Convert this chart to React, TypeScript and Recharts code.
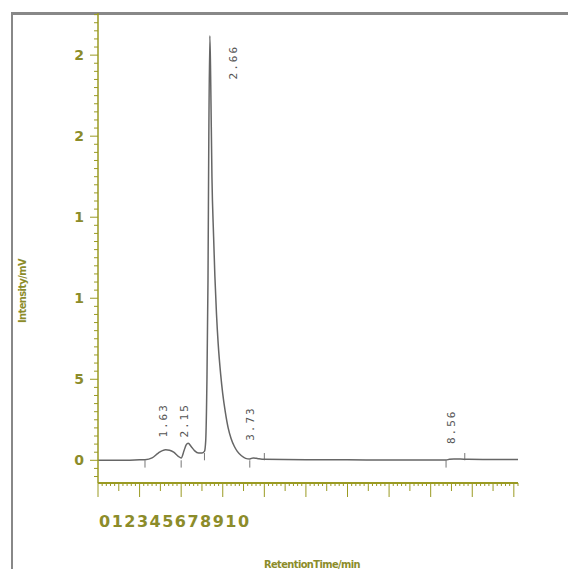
import React from "react";
import { ComposedChart, Line, Scatter, XAxis, YAxis, ReferenceLine } from "recharts";

// retention time (min) and detector signal (mV)
const times = [
  0, 0.5, 1.0, 1.13, 1.3, 1.45, 1.55, 1.63, 1.72, 1.82, 1.93, 2.0, 2.07, 2.12, 2.17,
  2.24, 2.32, 2.42, 2.5, 2.56, 2.59, 2.62, 2.645, 2.665, 2.69, 2.71, 2.74, 2.78, 2.81,
  2.85, 2.89, 2.95, 3.0, 3.06, 3.13, 3.2, 3.28, 3.35, 3.45, 3.55, 3.65, 3.73, 3.85, 4.0,
  5.0, 6.0, 7.0, 8.0, 8.37, 8.45, 8.56, 8.8, 9.5, 10.1,
];
const signal = [
  0.0, 0.0, 0.003, 0.004, 0.015, 0.045, 0.06, 0.065, 0.062, 0.05, 0.025, 0.015, 0.06, 0.095, 0.105,
  0.085, 0.06, 0.045, 0.045, 0.055, 0.12, 0.5, 1.11, 2.0, 2.62, 2.35, 1.75, 1.38, 1.14,
  0.9, 0.72, 0.53, 0.41, 0.3, 0.2, 0.135, 0.085, 0.055, 0.028, 0.012, 0.008, 0.015, 0.01, 0.006,
  0.004, 0.003, 0.002, 0.002, 0.002, 0.006, 0.008, 0.007, 0.005, 0.005,
];

const peakTimes = [1.63, 2.15, 2.67, 3.73, 8.56];
const peakNames = ["1.63", "2.15", "2.66", "3.73", "8.56"];
const peakLabelLevels = [0.14, 0.14, 2.35, 0.12, 0.1];

// integration markers: time and direction (down = -1, up = 1)
const markerTimes = [1.13, 2.0, 2.56, 3.65, 4.0, 8.37, 8.82];
const markerDirs = [-1, -1, 1, -1, 1, -1, 1];

const yTickValues = [0, 0.5, 1, 1.5, 2, 2.5];
const yTickLabels = ["0", "5", "1", "1", "2", "2"];
const xTickLabels = ["0", "1", "2", "3", "4", "5", "6", "7", "8", "9", "10"];

const OLIVE = "#9a9a22";
const TEXT_OLIVE = "#8c8c2a";
const TRACE = "#666666";

const curve = times.map((t, i) => ({ t, v: signal[i] }));
const peaks = peakTimes.map((t, i) => ({ t, y: peakLabelLevels[i], name: peakNames[i], idx: i }));

const xMinor = Array.from({ length: 102 }, (_, i) => Math.round(i) / 10);
const yMinor = Array.from({ length: 58 }, (_, i) => Math.round((i - 2) * 5) / 100);

const XTick = (props: any) => {
  const { x, y, payload } = props;
  const v = payload.value;
  const whole = Math.abs(v - Math.round(v)) < 1e-6;
  const half = Math.abs(v * 2 - Math.round(v * 2)) < 1e-6;
  const len = whole ? 14 : half ? 8 : 3;
  return (
    <g>
      <line x1={x} x2={x} y1={y} y2={y + len} stroke={OLIVE} strokeWidth={1} />
      {v === 0 && (
        <text
          x={x + 1}
          y={y + 44}
          fill={TEXT_OLIVE}
          fontFamily="DejaVu Sans"
          fontWeight="bold"
          fontSize={16}
          letterSpacing={1.5}
        >
          {xTickLabels.join("")}
        </text>
      )}
    </g>
  );
};

const YTick = (props: any) => {
  const { x, y, payload } = props;
  const v = payload.value;
  const k = yTickValues.findIndex((t) => Math.abs(t - v) < 1e-6);
  const len = k >= 0 ? 8 : 4;
  return (
    <g>
      <line x1={x - len} x2={x} y1={y} y2={y} stroke={OLIVE} strokeWidth={1} />
      {k >= 0 && (
        <text
          x={x - 14}
          y={y + 5}
          textAnchor="end"
          fill={TEXT_OLIVE}
          fontFamily="DejaVu Sans"
          fontWeight="bold"
          fontSize={14}
        >
          {yTickLabels[k]}
        </text>
      )}
    </g>
  );
};

const PeakLabel = (props: any) => {
  const { cx, cy, payload } = props;
  const dx = payload.idx === 2 ? 28 : 1;
  return (
    <text
      transform={`translate(${cx + dx},${cy}) rotate(-90)`}
      fill="#555"
      fontFamily="DejaVu Sans Mono"
      fontSize={11}
      letterSpacing={2}
    >
      {payload.name}
    </text>
  );
};

export default function App() {
  return (
    <div style={{ position: "relative", width: 576, height: 577, margin: -8, overflow: "hidden", background: "#fff" }}>
      <div
        style={{
          position: "absolute",
          left: 11,
          top: 12,
          width: 557,
          height: 600,
          borderTop: "3px solid #888",
          borderLeft: "2px solid #888",
          borderRight: "1px solid #e2e2e2",
        }}
      />
      <div style={{ position: "absolute", left: 0, top: 0 }}>
        <ComposedChart width={576} height={577} margin={{ top: 13, right: 58, left: 58, bottom: 64 }}>
          <XAxis
            dataKey="t"
            type="number"
            domain={[0, 10.1]}
            ticks={xMinor}
            interval={0}
            tickSize={0}
            tickMargin={0}
            tick={<XTick />}
            axisLine={{ stroke: OLIVE, strokeWidth: 2 }}
            tickLine={false}
            height={30}
            allowDataOverflow
            label={{
              content: () => (
                <text
                  x={312}
                  y={568}
                  textAnchor="middle"
                  fill={TEXT_OLIVE}
                  fontFamily="DejaVu Sans Condensed"
                  fontWeight="bold"
                  fontSize={11}
                  letterSpacing={-0.6}
                >
                  RetentionTime/min
                </text>
              ),
            }}
          />
          <YAxis
            type="number"
            domain={[-0.14, 2.76]}
            ticks={yMinor}
            interval={0}
            tickSize={0}
            tickMargin={0}
            tick={<YTick />}
            axisLine={{ stroke: OLIVE, strokeWidth: 1.5 }}
            tickLine={false}
            width={40}
            allowDataOverflow
            label={{
              content: () => (
                <text
                  transform="translate(26,291) rotate(-90)"
                  textAnchor="middle"
                  fill={TEXT_OLIVE}
                  fontFamily="DejaVu Sans Condensed"
                  fontWeight="bold"
                  fontSize={11}
                  letterSpacing={-0.6}
                >
                  Intensity/mV
                </text>
              ),
            }}
          />
          {markerTimes.map((t, i) => (
            <ReferenceLine
              key={t}
              segment={[
                { x: t, y: 0 },
                { x: t, y: markerDirs[i] * 0.045 },
              ]}
              stroke="#777"
              strokeWidth={1}
              ifOverflow="visible"
            />
          ))}
          <Line
            data={curve}
            dataKey="v"
            type="monotone"
            stroke={TRACE}
            strokeWidth={1.5}
            dot={false}
            isAnimationActive={false}
          />
          <Scatter data={peaks} dataKey="y" shape={<PeakLabel />} isAnimationActive={false} />
        </ComposedChart>
      </div>
    </div>
  );
}
